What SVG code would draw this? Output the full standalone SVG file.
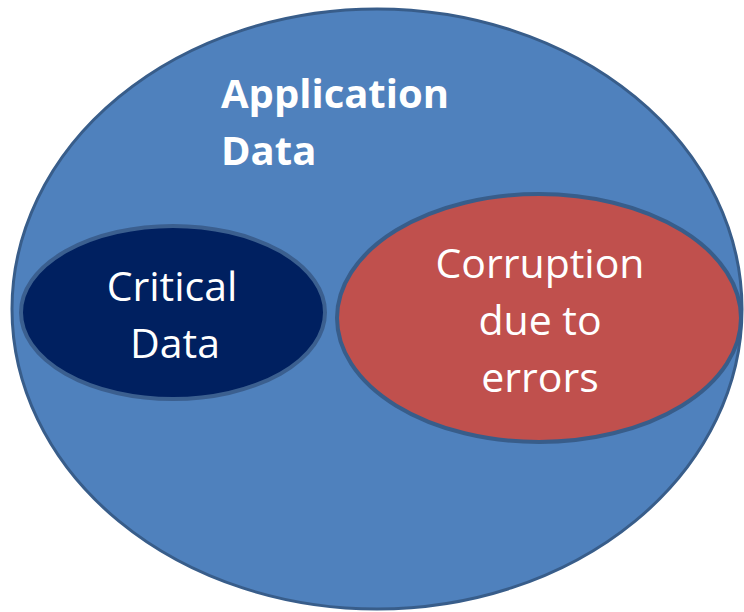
<svg xmlns="http://www.w3.org/2000/svg" width="744" height="612" viewBox="0 0 744 612">
  <style>
    .lbl { font-family: "Open Sans", "Liberation Sans", sans-serif; fill: #ffffff; text-anchor: middle; font-variant-ligatures: none; }
    .title { font-weight: bold; font-size: 40px; text-anchor: start; }
    .body { font-size: 41px; }
  </style>
  <rect width="744" height="612" fill="#ffffff"/>
  <g id="application-data">
    <ellipse cx="377" cy="309" rx="365" ry="300" fill="#4f81bd" stroke="#385d8a" stroke-width="3"/>
    <text class="lbl title" x="221" y="108">Application</text>
    <text class="lbl title" x="221" y="165">Data</text>
  </g>
  <g id="critical-data">
    <ellipse cx="173" cy="312.5" rx="152" ry="86.5" fill="#002060" stroke="#3b5f8f" stroke-width="4"/>
    <text class="lbl body" x="172" y="301">Critical</text>
    <text class="lbl body" x="175" y="358">Data</text>
  </g>
  <g id="corruption">
    <ellipse cx="539" cy="318" rx="202" ry="124" fill="#c0504d" stroke="#385d8a" stroke-width="4"/>
    <text class="lbl body" x="540" y="278">Corruption</text>
    <text class="lbl body" x="540" y="335">due to</text>
    <text class="lbl body" x="540" y="392">errors</text>
  </g>
  <g id="connectors"/>
</svg>
